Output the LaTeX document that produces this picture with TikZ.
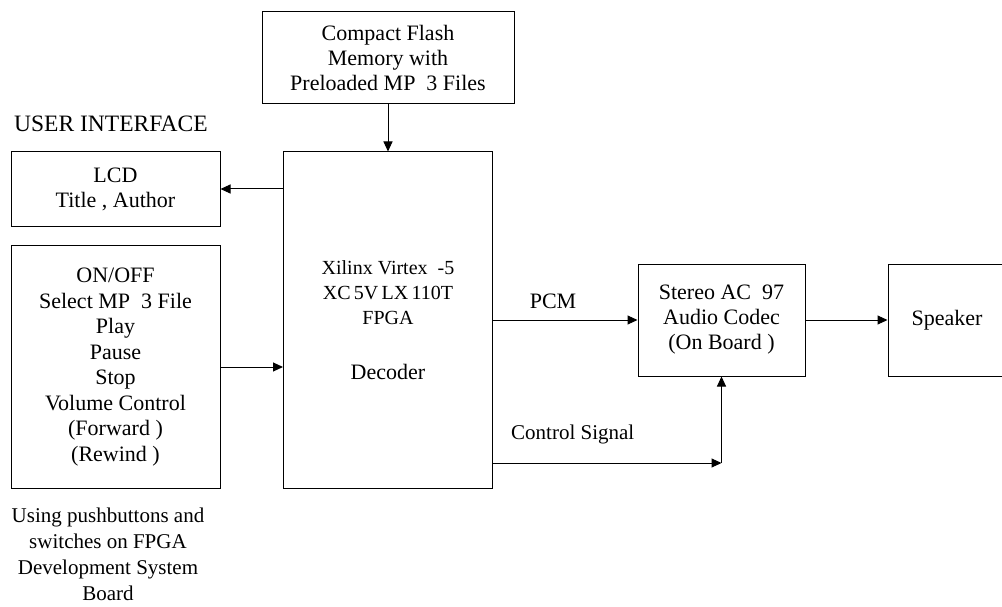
\documentclass[tikz,border=0pt]{standalone}
\usepackage{fontspec}
\setmainfont{Liberation Serif}
\usetikzlibrary{arrows.meta}
\newcommand{\chipfont}{\fontsize{20pt}{25pt}\selectfont}
\tikzset{
  block/.style={draw, line width=1pt, align=center, inner sep=0pt, font=\fontsize{22pt}{25pt}\selectfont},
  note/.style={inner sep=0pt, align=center, font=\fontsize{21pt}{26pt}\selectfont},
  link/.style={line width=1pt, -{Triangle[length=10pt,width=9pt]}}
}
\begin{document}
\begin{tikzpicture}[x=1pt,y=-1pt]
\useasboundingbox (0,0) rectangle (1002,607);
% blocks
\node[block, minimum width=252pt, minimum height=92pt] (flash) at (388,58) {Compact Flash\\Memory with\\Preloaded MP~~3 Files};
\node[block, minimum width=209pt, minimum height=74pt] (lcd) at (115.5,189) {LCD\\Title , Author};
\node[block, minimum width=209pt, minimum height=243pt, font=\fontsize{22pt}{25.5pt}\selectfont] (buttons) at (115.5,367) {ON/OFF\\Select MP~~3 File\\Play\\Pause\\Stop\\Volume Control\\(Forward )\\(Rewind )};
\node[block, minimum width=209pt, minimum height=336pt] (fpga) at (388,320) {{\chipfont Xilinx Virtex~~-5}\\{\chipfont XC\,5V\,LX\,110T}\\{\chipfont FPGA}\\[30pt]Decoder};
\node[block, minimum width=167pt, minimum height=112pt] (codec) at (721.5,320) {Stereo AC~~97\\Audio Codec\\(On Board )};
\node[block, minimum width=118pt, minimum height=112pt] (speaker) at (947,320) {Speaker};
% labels
\node[note, font=\fontsize{23.5pt}{26pt}\selectfont, anchor=base west] (ui) at (14,132) {USER INTERFACE};
\node[note, font=\fontsize{22pt}{26pt}\selectfont, anchor=base] (pcm) at (553,308) {PCM};
\node[note, anchor=base west] (sig) at (511,439) {Control Signal};
\node[note] (usage) at (108,554) {Using pushbuttons and\\switches on FPGA\\Development System\\Board};
% connectors
\coordinate (bend) at (codec.south |- 0,463);
\draw[link] (flash) -- (fpga);
\draw[link] (fpga.west |- lcd) -- (lcd);
\draw[link] (buttons) -- (buttons -| fpga.west);
\draw[link] (fpga) -- (codec);
\draw[link] (codec) -- (speaker);
\draw[link] (fpga.east |- bend) -- (bend);
\draw[link] (bend) -- (codec);
\end{tikzpicture}
\end{document}
